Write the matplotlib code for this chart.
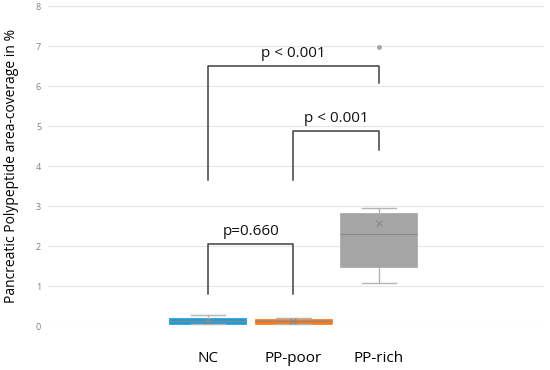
import numpy as np
import matplotlib.pyplot as plt

plt.rcParams['font.family'] = ['Open Sans', 'DejaVu Sans']

# data
groups = ['NC', 'PP-poor', 'PP-rich']
q1 = [0.06, 0.06, 1.48]
medians = [0.13, 0.12, 2.30]
q3 = [0.20, 0.17, 2.83]
whis_lo = [0.05, 0.05, 1.08]
whis_hi = [0.27, 0.21, 2.95]
means = [0.13, 0.12, 2.58]
outliers = [[], [], [6.97]]
colors = ['#1F9BD7', '#F47A20', '#A5A5A5']

# significance brackets: (left group, right group, left foot, right foot, top, label)
brackets = [
    (0, 2, 3.65, 6.08, 6.50, 'p < 0.001'),
    (1, 2, 3.65, 4.40, 4.88, 'p < 0.001'),
    (0, 1, 0.80, 0.80, 2.05, 'p=0.660'),
]

fig = plt.figure(figsize=(5.5, 3.7), dpi=100)
ax = fig.add_axes([48/550, 1-326/370, 496/550, 320/370])

pos = np.arange(1, len(groups) + 1)
stats = []
for i in range(len(groups)):
    stats.append(dict(med=medians[i], q1=q1[i], q3=q3[i], whislo=whis_lo[i],
                      whishi=whis_hi[i], mean=means[i], fliers=outliers[i]))

bp = ax.bxp(stats, positions=pos, widths=0.9, patch_artist=True, showmeans=True,
            meanprops=dict(marker='x', markeredgecolor='#8a8a8a', markersize=5, markeredgewidth=0.8),
            medianprops=dict(color='#8a8a8a', linewidth=0.8),
            whiskerprops=dict(color='#b5b5b5', linewidth=1),
            capprops=dict(color='#b5b5b5', linewidth=1),
            flierprops=dict(marker='o', markersize=2.5, markerfacecolor='#a5a5a5',
                            markeredgecolor='#a5a5a5'),
            boxprops=dict(linewidth=0.5))
for patch, c in zip(bp['boxes'], colors):
    patch.set_facecolor(c)
    patch.set_edgecolor(c)
# shorter whisker caps, like the original
for cap in bp['caps']:
    mid = np.mean(cap.get_xdata())
    cap.set_xdata([mid - 0.2, mid + 0.2])

for a, b, yl, yr, top, label in brackets:
    xa, xb = pos[a], pos[b]
    ax.plot([xa, xa, xb, xb], [yl, top, top, yr], color='#404040', linewidth=1.1)
    ax.text((xa + xb) / 2, top + 0.12, label, ha='center', va='bottom', fontsize=11, color='#111111')

ax.set_xlim(-0.87, 4.93)
ax.set_ylim(0, 8)
ax.set_yticks(range(0, 9))
ax.set_xticks(pos)
ax.set_xticklabels(groups, fontsize=11)
ax.tick_params(axis='x', length=0, pad=18)
ax.tick_params(axis='y', length=0, labelsize=6.5, labelcolor='#7f7f7f', pad=5)
ax.yaxis.grid(True, color='#e6e6e6', linewidth=0.8)
ax.set_axisbelow(True)
for s in ax.spines.values():
    s.set_visible(False)
ax.set_ylabel('Pancreatic Polypeptide area-coverage in %', fontsize=10, labelpad=12)

plt.savefig('out.png', dpi=100)
